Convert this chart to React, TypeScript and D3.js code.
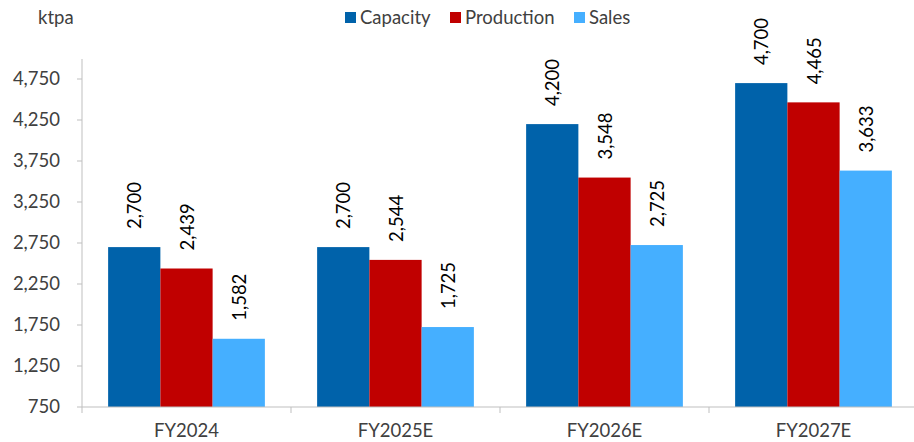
import React from "react";
import * as d3 from "d3";

const categories = ["FY2024", "FY2025E", "FY2026E", "FY2027E"];
const seriesNames = ["Capacity", "Production", "Sales"];
const capacity = [2700, 2700, 4200, 4700];
const production = [2439, 2544, 3548, 4465];
const sales = [1582, 1725, 2725, 3633];
const yTicks = [750, 1250, 1750, 2250, 2750, 3250, 3750, 4250, 4750];
const unitLabel = "ktpa";

const colors = ["#0062AA", "#C00000", "#45AFFF"];

const W = 914;
const H = 442;
const left = 82;
const right = 918;
const top = 59;
const bottom = 407;
const font = "Lato, 'Open Sans', sans-serif";
const fs = 18.5;

export default function App() {
  const series = [capacity, production, sales];
  const x = d3.scaleBand<string>().domain(categories).range([left, right]).padding(0);
  const step = x.bandwidth();
  const barW = step * 0.25;
  const y = d3.scaleLinear().domain([750, 750 + ((bottom - top) / 41) * 500]).range([bottom, top]);
  const fmt = d3.format(",");

  const legendItems = [
    { x: 345, name: seriesNames[0] },
    { x: 450, name: seriesNames[1] },
    { x: 574, name: seriesNames[2] },
  ];

  return (
    <svg width={W} height={H} style={{ position: "absolute", left: 0, top: 0, background: "#fff" }}>
      <text x={38} y={24} fontFamily={font} fontSize={fs} fill="#404040">{unitLabel}</text>

      {legendItems.map((d, i) => (
        <g key={d.name}>
          <rect x={d.x} y={12} width={11} height={11} fill={colors[i]} />
          <text x={d.x + 15} y={24} fontFamily={font} fontSize={fs} fill="#404040">{d.name}</text>
        </g>
      ))}

      {/* y axis */}
      <line x1={left} x2={left} y1={top} y2={bottom} stroke="#bfbfbf" />
      {yTicks.map((t) => (
        <g key={t}>
          <line x1={left - 5} x2={left} y1={y(t)} y2={y(t)} stroke="#bfbfbf" />
          <text x={left - 22} y={y(t)} dy="0.35em" textAnchor="end" fontFamily={font} fontSize={fs} fill="#404040">
            {fmt(t)}
          </text>
        </g>
      ))}

      {/* bars */}
      {categories.map((c, ci) => (
        <g key={c}>
          {series.map((s, si) => {
            const bx = (x(c) as number) + step * 0.125 + si * barW;
            const by = y(s[ci]);
            const cx = bx + barW / 2;
            return (
              <g key={si}>
                <rect x={bx} y={by} width={barW} height={bottom - by} fill={colors[si]} />
                <text
                  transform={`translate(${cx + 7},${by - 18}) rotate(-90)`}
                  fontFamily={font}
                  fontSize={fs}
                  fill="#000"
                >
                  {fmt(s[ci])}
                </text>
              </g>
            );
          })}
        </g>
      ))}

      {/* x axis */}
      <line x1={left} x2={right} y1={bottom} y2={bottom} stroke="#bfbfbf" />
      {categories.map((c, i) => (
        <line key={"t" + i} x1={x(c) as number} x2={x(c) as number} y1={bottom} y2={bottom + 6} stroke="#bfbfbf" />
      ))}
      {categories.map((c) => (
        <text
          key={"l" + c}
          x={(x(c) as number) + step / 2}
          y={437}
          textAnchor="middle"
          fontFamily={font}
          fontSize={fs}
          fill="#404040"
        >
          {c}
        </text>
      ))}
    </svg>
  );
}
